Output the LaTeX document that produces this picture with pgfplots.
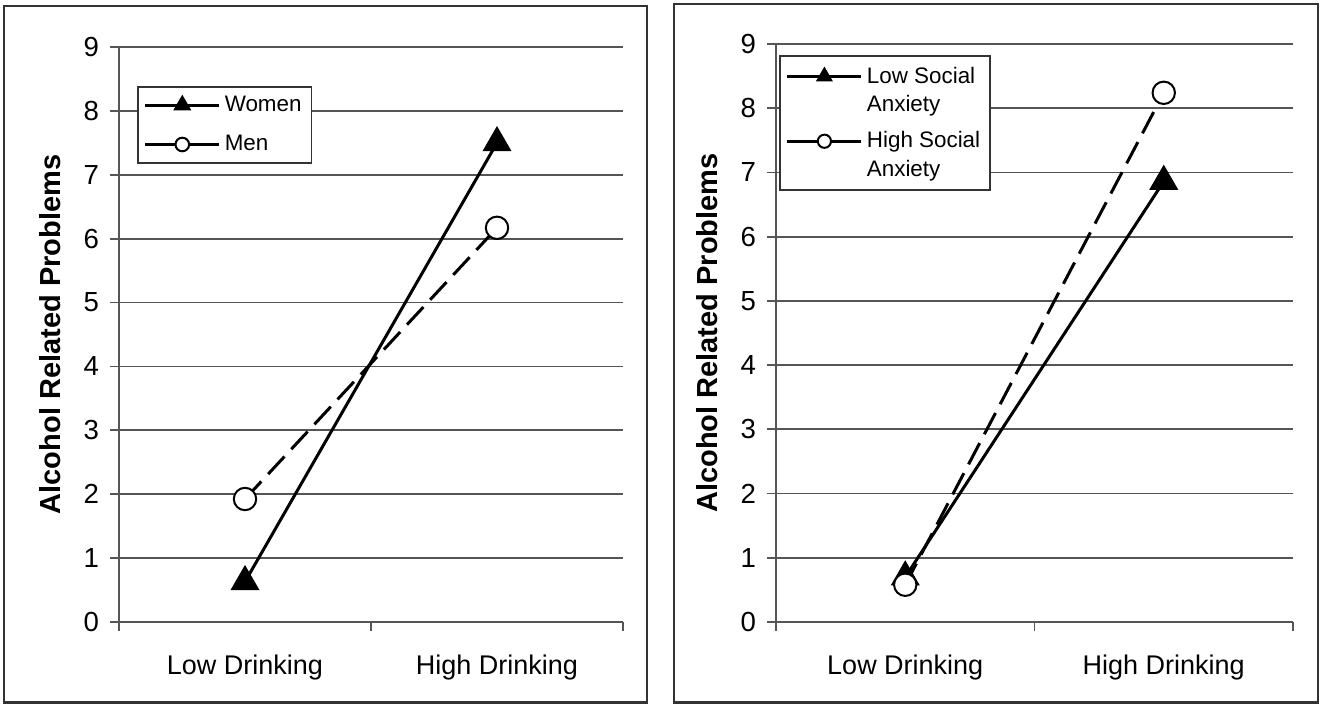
\documentclass[border=0pt]{standalone}
\usepackage{fontspec}
\setmainfont{Liberation Sans}
\usepackage{pgfplots}
\pgfplotsset{compat=1.18}
\definecolor{frame}{HTML}{333333}
\definecolor{gridc}{HTML}{555555}
\pgfplotsset{
  myaxis/.style={
    scale only axis,
    xmin=0, xmax=2, ymin=0, ymax=9,
    axis x line*=bottom, axis y line*=left,
    axis line style={-, gridc, line width=0.9pt},
    xtick={0,1,2}, xticklabels={},
    extra x ticks={0.5,1.5},
    extra x tick labels={Low Drinking, High Drinking},
    extra x tick style={major tick length=0pt, grid=none,
      xticklabel style={yshift=-13pt, font=\fontsize{13.5}{15}\selectfont}},
    ytick={0,1,...,9},
    ymajorgrids, grid style={gridc, line width=0.9pt},
    tick align=outside, major tick length=4.5pt,
    tick style={gridc, line width=0.9pt},
    yticklabel style={xshift=-2pt, font=\fontsize{13.8}{15}\selectfont},
    /pgf/number format/assume math mode=true,
    clip=false,
    legend cell align=left,
    legend style={draw=frame, line width=0.8pt,
      font=\fontsize{11.2}{14.5}\selectfont,
      inner xsep=3pt},
  },
  mylegend/.style={
    legend image code/.code={%
      \draw[mark repeat=2,mark phase=2] plot coordinates {(0pt,0pt)(#1,0pt)(2*#1,0pt)};}
  },
}
\begin{document}
\begin{tikzpicture}
\useasboundingbox (0,0) rectangle (662.5pt,352pt);
\draw[frame, line width=1.3pt] (2pt,0.8pt) rectangle (323.5pt,349pt);
\draw[frame, line width=1.3pt] (337pt,0.8pt) rectangle (659pt,350pt);

% ---------------- Left panel ----------------
\begin{axis}[myaxis,
  at={(59.5pt,41pt)}, anchor=south west,
  width=252pt, height=287.5pt,
  legend style={at={(rel axis cs:0.0357,0.932)}, anchor=north west,
    row sep=6.5pt, inner ysep=2.5pt},
]
\node[rotate=90, anchor=base, font=\fontsize{14.5}{16}\selectfont\bfseries]
  at (axis description cs:-0.117,0.5) {Alcohol Related Problems};
\addplot[black, line width=1.5pt, mark=triangle*, mark size=7.8pt,
  mark options={solid, fill=black, line width=0.6pt},
  mylegend=18.5pt, legend image post style={mark size=4.6pt}]
  coordinates {(0.5,0.63) (1.5,7.50)};
\addlegendentry{Women}
\addplot[black, line width=1.5pt, dash pattern=on 12pt off 5pt,
  mark=*, mark size=5.6pt,
  mark options={solid, fill=white, line width=1pt},
  mylegend=18.5pt, legend image post style={mark size=3.4pt, solid}]
  coordinates {(0.5,1.925) (1.5,6.17)};
\addlegendentry{Men}
\end{axis}

% ---------------- Right panel ----------------
\begin{axis}[myaxis,
  at={(388pt,41pt)}, anchor=south west,
  width=258.5pt, height=289pt,
  legend style={at={(rel axis cs:0.006,0.981)}, anchor=north west,
    row sep=0.5pt, inner ysep=3.5pt},
]
\node[rotate=90, anchor=base, font=\fontsize{14.5}{16}\selectfont\bfseries]
  at (axis description cs:-0.114,0.5) {Alcohol Related Problems};
\addplot[black, line width=1.5pt, mark=triangle*, mark size=7.8pt,
  mark options={solid, fill=black, line width=0.6pt},
  mylegend=18.5pt, legend image post style={mark size=4.3pt}]
  coordinates {(0.5,0.70) (1.5,6.86)};
\addlegendentry{Low Social}
\addlegendimage{legend image code/.code={\path[draw=none,fill=none] (0pt,-11pt) -- (0pt,0pt);}}
\addlegendentry{Anxiety}
\addplot[black, line width=1.5pt, dash pattern=on 12pt off 5pt,
  mark=*, mark size=5.6pt,
  mark options={solid, fill=white, line width=1pt},
  mylegend=18.5pt, legend image post style={mark size=3.3pt, solid}]
  coordinates {(0.5,0.58) (1.5,8.24)};
\addlegendentry{High Social}
\addlegendimage{empty legend}
\addlegendentry{Anxiety}
\end{axis}
\end{tikzpicture}
\end{document}
